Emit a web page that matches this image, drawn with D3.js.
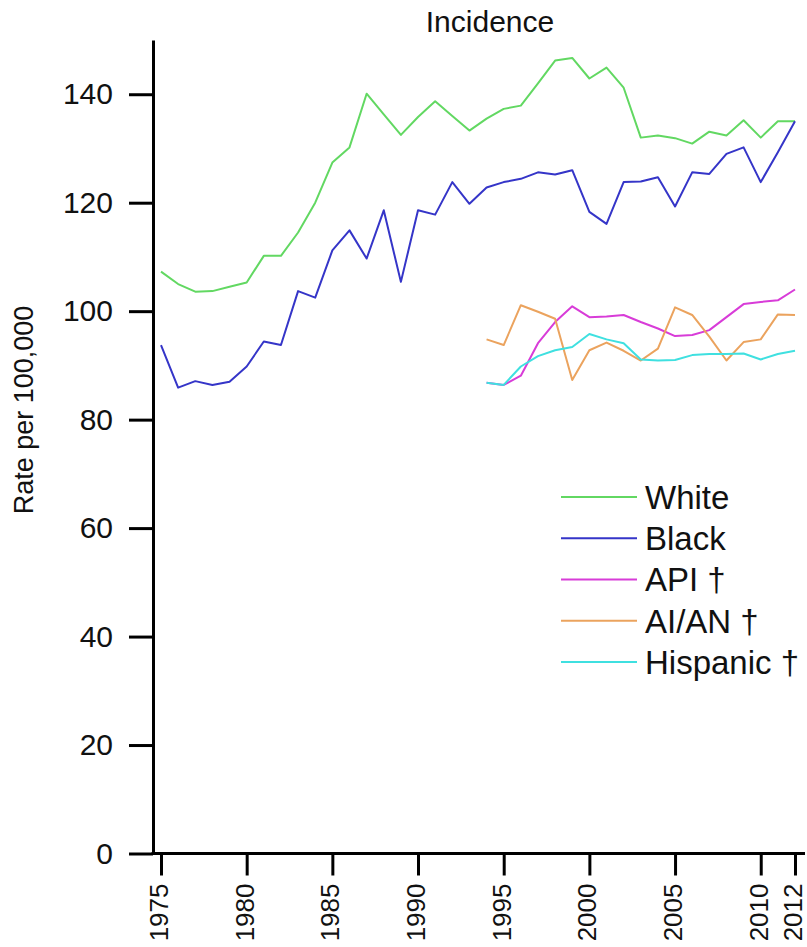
<!DOCTYPE html>
<html>
<head>
<meta charset="utf-8">
<script src="https://cdn.jsdelivr.net/npm/d3@7"></script>
<style>
  html, body { margin: 0; padding: 0; background: #fff; }
  svg { display: block; font-family: "Liberation Sans", Arial, sans-serif; }
</style>
</head>
<body>
<svg id="chart" width="807" height="947"></svg>
<script>
const years = d3.range(1975, 2013);
const subYears = d3.range(1994, 2013);
const xTickValues = [1975, 1980, 1985, 1990, 1995, 2000, 2005, 2010, 2012];
const yTickValues = [0, 20, 40, 60, 80, 100, 120, 140];

const white = [107.3, 105.0, 103.6, 103.7, 104.5, 105.3, 110.2, 110.2, 114.5, 120.0,
  127.4, 130.2, 140.1, 136.3, 132.5, 135.8, 138.7, 136.0, 133.3, 135.5,
  137.3, 137.9, 142.0, 146.2, 146.7, 142.9, 144.9, 141.2, 132.0, 132.4,
  131.9, 130.9, 133.1, 132.4, 135.2, 132.0, 135.0, 135.0];
const black = [93.75, 85.9, 87.1, 86.4, 87.0, 89.8, 94.4, 93.75, 103.7, 102.5,
  111.2, 114.9, 109.7, 118.6, 105.4, 118.6, 117.8, 123.8, 119.8, 122.8,
  123.8, 124.4, 125.6, 125.2, 126.0, 118.3, 116.1, 123.8, 123.9, 124.7,
  119.3, 125.6, 125.3, 129.0, 130.2, 123.8, 129.3, 135.0];
const api = [86.8, 86.4, 88.1, 94.1, 98.0, 100.9, 98.9, 99.0, 99.3, 98.0,
  96.8, 95.4, 95.6, 96.5, 98.9, 101.3, 101.7, 102.0, 104.0];
const aian = [94.8, 93.75, 101.1, 99.9, 98.6, 87.3, 92.8, 94.2, 92.7, 90.9,
  93.1, 100.7, 99.3, 95.3, 90.9, 94.3, 94.8, 99.4, 99.3];
const hispanic = [86.8, 86.4, 89.8, 91.7, 92.8, 93.4, 95.8, 94.8, 94.1, 91.1,
  90.9, 91.0, 91.9, 92.1, 92.1, 92.2, 91.1, 92.1, 92.7];

const seriesNames = ["White", "Black", "API \u2020", "AI/AN \u2020", "Hispanic \u2020"];
const seriesColors = ["#62d862", "#3535c8", "#d83cd8", "#eba35e", "#3fe0e0"];

const series = [
  { name: seriesNames[0], color: seriesColors[0], years: years, values: white },
  { name: seriesNames[1], color: seriesColors[1], years: years, values: black },
  { name: seriesNames[2], color: seriesColors[2], years: subYears, values: api },
  { name: seriesNames[3], color: seriesColors[3], years: subYears, values: aian },
  { name: seriesNames[4], color: seriesColors[4], years: subYears, values: hispanic }
];

const svg = d3.select("#chart");
const axisX = 153;
const x = d3.scaleLinear().domain([1975, 2012]).range([161, 795]);
const y = d3.scaleLinear().domain([0, 150]).range([853.5, 40]);

// Title
svg.append("text")
  .attr("x", 490).attr("y", 32)
  .attr("text-anchor", "middle")
  .attr("font-size", 30)
  .attr("fill", "#111")
  .text("Incidence");

// Y label
svg.append("text")
  .attr("transform", "translate(33,410) rotate(-90)")
  .attr("text-anchor", "middle")
  .attr("font-size", 27)
  .attr("fill", "#111")
  .text("Rate per 100,000");

// Y axis
const yAxis = svg.append("g")
  .attr("transform", `translate(${axisX},0)`)
  .call(d3.axisLeft(y).tickValues(yTickValues).tickSize(24).tickSizeOuter(0).tickPadding(16));
yAxis.select(".domain").attr("stroke", "#000").attr("stroke-width", 3);
yAxis.selectAll(".tick line").attr("stroke", "#000").attr("stroke-width", 3);
yAxis.selectAll(".tick text").attr("font-size", 30).attr("fill", "#111")
  .attr("font-family", "Liberation Sans, Arial, sans-serif");

// X axis
const xAxis = svg.append("g")
  .attr("transform", `translate(0,${y(0)})`)
  .call(d3.axisBottom(x).tickValues(xTickValues).tickSize(22).tickSizeOuter(0).tickFormat(d3.format("d")));
xAxis.select(".domain").remove();
xAxis.append("line")
  .attr("x1", axisX - 1.5).attr("x2", 805)
  .attr("y1", 0).attr("y2", 0)
  .attr("stroke", "#000").attr("stroke-width", 3);
xAxis.selectAll(".tick line").attr("stroke", "#000").attr("stroke-width", 3);
xAxis.selectAll(".tick text")
  .attr("font-size", 26).attr("fill", "#111")
  .attr("font-family", "Liberation Sans, Arial, sans-serif")
  .attr("transform", "rotate(-90)")
  .attr("text-anchor", "end")
  .attr("x", -30).attr("y", 0).attr("dy", "0.25em");

// Lines
const line = d3.line()
  .x(d => x(d[0]))
  .y(d => y(d[1]));

series.forEach(s => {
  svg.append("path")
    .datum(s.years.map((yr, i) => [yr, s.values[i]]))
    .attr("fill", "none")
    .attr("stroke", s.color)
    .attr("stroke-width", 2)
    .attr("stroke-linejoin", "round")
    .attr("d", line);
});

// Legend
const legendY = d3.scalePoint().domain(seriesNames).range([497, 662]);
const legend = svg.append("g");
series.forEach(s => {
  const ly = legendY(s.name);
  legend.append("line")
    .attr("x1", 561).attr("x2", 637)
    .attr("y1", ly).attr("y2", ly)
    .attr("stroke", s.color).attr("stroke-width", 2);
  legend.append("text")
    .attr("x", 645).attr("y", ly).attr("dy", "0.36em")
    .attr("font-size", 33).attr("fill", "#111")
    .text(s.name);
});
</script>
</body>
</html>
